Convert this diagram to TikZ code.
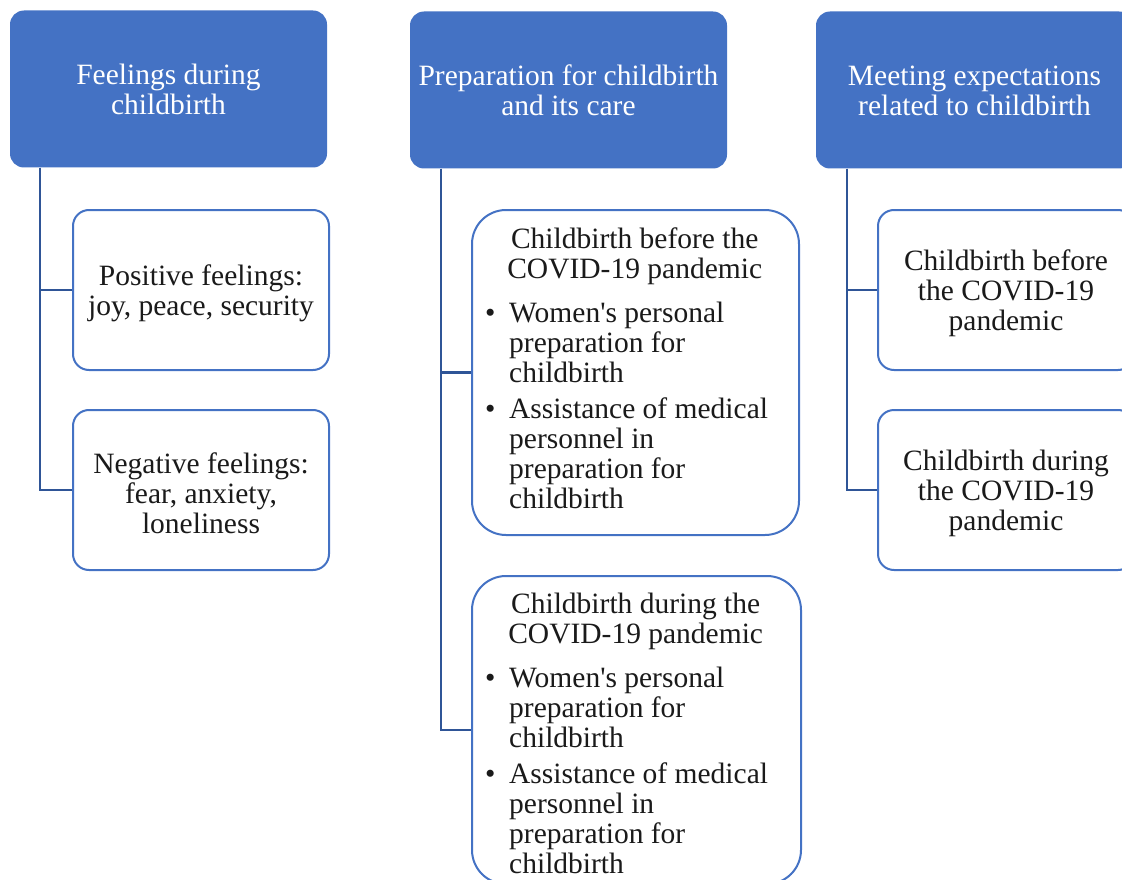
\documentclass[tikz,border=0pt]{standalone}
\usepackage{fontspec}
\setmainfont{Liberation Serif}
\definecolor{hdr}{HTML}{4472C4}
\definecolor{lnk}{HTML}{2F5597}
\definecolor{ink}{HTML}{1A1A1A}
\newcommand{\bitem}[1]{\par\noindent\hangindent=38pt\hangafter=1\makebox[38pt][l]{\hspace{14pt}\textbullet}#1\par}
\newcommand{\tp}{\rule{0pt}{26.5pt}}
\tikzset{
  bigfont/.style={font=\fontsize{29.5}{30}\selectfont},
  header/.style={fill=hdr, draw=none, rounded corners=14pt, text=white, align=center, bigfont,
    minimum width=317pt, minimum height=157pt, inner sep=0pt},
  sub/.style={draw=hdr, line width=2pt, fill=white, rounded corners=16pt, text=ink, align=center, bigfont,
    minimum width=256pt, minimum height=160pt, inner sep=0pt},
  bigsub/.style={sub, rounded corners=34pt},
  listtext/.style={anchor=north west, inner sep=0pt, text width=327pt, text=ink, bigfont},
  conn/.style={draw=lnk, line width=2.5pt},
}
\begin{document}
\begin{tikzpicture}[x=1pt,y=-1pt]
\useasboundingbox (0,0) rectangle (1122,880);
\clip (0,0) rectangle (1122,880);

% headers
\node[header] (h1) at (168.5,89) {\rule{0pt}{22pt}Feelings during\\childbirth};
\node[header] (h2) at (568.5,90) {\rule{0pt}{22pt}Preparation for childbirth\\and its care};
\node[header] (h3) at (974.5,90) {\rule{0pt}{22pt}Meeting expectations\\related to childbirth};

% column 1
\node[sub] (c1a) at (201,290) {\tp Positive feelings:\\joy, peace, security};
\node[sub] (c1b) at (201,490) {\tp Negative feelings:\\fear, anxiety,\\loneliness};

% column 2
\node[bigsub, minimum width=327pt, minimum height=325pt] (c2a) at (635.5,372.5) {};
\node[bigsub, minimum width=329pt, minimum height=308pt] (c2b) at (636.5,730) {};
\node[listtext] (t2a) at ([yshift=-19pt]c2a.north west) {%
  \spaceskip=0pt\xspaceskip=0pt
  \centering Childbirth before the\\COVID-19 pandemic\par
  \raggedright\spaceskip=0pt\xspaceskip=0pt\vspace{14pt}%
  \bitem{Women\textquotesingle s personal\newline preparation for\newline childbirth}\vspace{6pt}%
  \bitem{Assistance of medical\newline personnel in\newline preparation for\newline childbirth}};
\node[listtext, text width=329pt] (t2b) at ([yshift=-18pt]c2b.north west) {%
  \spaceskip=0pt\xspaceskip=0pt
  \centering Childbirth during the\\COVID-19 pandemic\par
  \raggedright\spaceskip=0pt\xspaceskip=0pt\vspace{14pt}%
  \bitem{Women\textquotesingle s personal\newline preparation for\newline childbirth}\vspace{6pt}%
  \bitem{Assistance of medical\newline personnel in\newline preparation for\newline childbirth}};

% column 3
\node[sub] (c3a) at (1006,290) {\tp Childbirth before\\the COVID-19\\pandemic};
\node[sub] (c3b) at (1006,490) {\tp Childbirth during\\the COVID-19\\pandemic};

% connectors
\draw[conn] ([xshift=30pt]h1.south west) |- (c1a.west);
\draw[conn] ([xshift=30pt]h1.south west) |- (c1b.west);
\draw[conn] ([xshift=31pt]h2.south west) |- (c2a.west);
\draw[conn] ([xshift=31pt]h2.south west) |- (c2b.west);
\draw[conn] ([xshift=31pt]h3.south west) |- (c3a.west);
\draw[conn] ([xshift=31pt]h3.south west) |- (c3b.west);
\end{tikzpicture}
\end{document}
